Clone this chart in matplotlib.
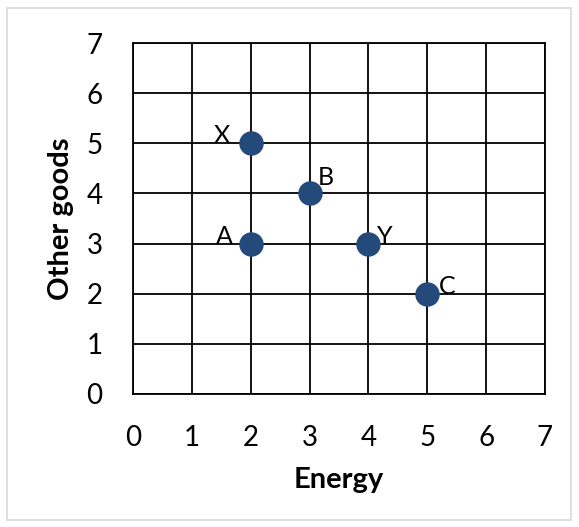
import matplotlib.pyplot as plt
from matplotlib.patches import Rectangle

# data
energy = [2, 3, 2, 4, 5]
other_goods = [5, 4, 3, 3, 2]
point_names = ['X', 'B', 'A', 'Y', 'C']
# label offsets in points (dx, dy, ha)
label_pos = [(-15, 0, 'right'), (6, 6, 'left'), (-13, 0, 'right'), (6, 0, 'left'), (8, 0, 'left')]
ticks = [0, 1, 2, 3, 4, 5, 6, 7]

plt.rcParams['font.family'] = ['Lato', 'DejaVu Sans']

fig = plt.figure(figsize=(5.79, 5.27), dpi=100)
ax = fig.add_axes([0.2297, 0.2524, 0.7116, 0.666])

# outer light border
fig.patches.append(Rectangle((7 / 579, 7 / 527), 564 / 579, 512 / 527, transform=fig.transFigure,
                             fill=False, edgecolor='#d9d9d9', linewidth=1.2))

ax.scatter(energy, other_goods, s=275, color='#234A7B', zorder=3, clip_on=False)
for x, y, name, (dx, dy, ha) in zip(energy, other_goods, point_names, label_pos):
    ax.annotate(name, (x, y), xytext=(dx, dy), textcoords='offset points', ha=ha, va='baseline',
                fontsize=18, color='black')

ax.set_xlim(0, 7)
ax.set_ylim(0, 7)
ax.set_xticks(ticks)
ax.set_yticks(ticks)
ax.grid(True, color='black', linewidth=1.3)
ax.set_axisbelow(True)
for s in ax.spines.values():
    s.set_linewidth(1.3)
ax.tick_params(length=0, labelsize=20, pad=22)

ax.set_xlabel('Energy', fontsize=21, fontweight='bold', labelpad=12)
ax.set_ylabel('Other goods', fontsize=21, fontweight='bold', labelpad=9)

fig.savefig('out.png', dpi=100)
